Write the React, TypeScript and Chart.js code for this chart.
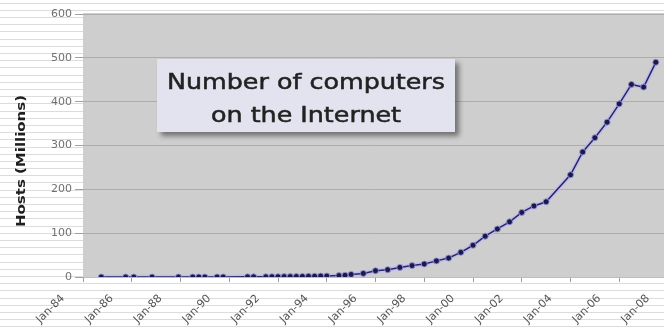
import React, { useEffect, useRef } from "react";
import { Chart, registerables } from "chart.js";

Chart.register(...registerables);

// Survey dates (year-month) and number of Internet hosts (millions)
const surveyDates = [
  "1984-10", "1985-10", "1986-02", "1986-11", "1987-12", "1988-07", "1988-10", "1989-01",
  "1989-07", "1989-10", "1990-10", "1991-01", "1991-07", "1991-10", "1992-01", "1992-04",
  "1992-07", "1992-10", "1993-01", "1993-04", "1993-07", "1993-10", "1994-01", "1994-07",
  "1994-10", "1995-01", "1995-07", "1996-01", "1996-07", "1997-01", "1997-07", "1998-01",
  "1998-07", "1999-01", "1999-07", "2000-01", "2000-07", "2001-01", "2001-07", "2002-01",
  "2002-07", "2003-01", "2004-01", "2004-07", "2005-01", "2005-07", "2006-01", "2006-07",
  "2007-01", "2007-07",
];
const hostsMillions = [
  0.001, 0.002, 0.002, 0.005, 0.028, 0.033, 0.056, 0.08,
  0.13, 0.159, 0.313, 0.376, 0.535, 0.617, 0.727, 0.89,
  0.992, 1.136, 1.313, 1.486, 1.776, 2.056, 2.217, 3.212,
  3.864, 5.846, 8.2, 14.352, 16.729, 21.819, 26.053, 29.67,
  36.739, 43.23, 56.218, 72.398, 93.048, 109.574, 125.888, 147.345,
  162.128, 171.638, 233.101, 285.139, 317.646, 353.284, 394.992, 439.286,
  433.193, 489.774,
];
const xTickYears = [1984, 1986, 1988, 1990, 1992, 1994, 1996, 1998, 2000, 2002, 2004, 2006, 2008];
const xTickLabels = ["Jan-84", "Jan-86", "Jan-88", "Jan-90", "Jan-92", "Jan-94", "Jan-96", "Jan-98", "Jan-00", "Jan-02", "Jan-04", "Jan-06", "Jan-08"];
const yTicks = [0, 100, 200, 300, 400, 500, 600];
const yAxisTitle = "Hosts (Millions)";
const boxTitleLines = ["Number of computers", "on the Internet"];

const toYear = (s: string) => {
  const [y, m] = s.split("-").map(Number);
  return y + (m - 1) / 12;
};

const points = surveyDates.map((d, i) => ({ x: toYear(d), y: hostsMillions[i] }));

const backgroundPlugin = {
  id: "bgPlugin",
  beforeDraw(chart: any) {
    const { ctx, width, height, chartArea } = chart;
    ctx.save();
    ctx.fillStyle = "#ffffff";
    ctx.fillRect(0, 0, width, height);
    ctx.strokeStyle = "#dcdcdc";
    ctx.lineWidth = 1;
    for (let y = 2.5; y < height; y += 7.2) {
      ctx.beginPath();
      ctx.moveTo(0, Math.round(y) + 0.5);
      ctx.lineTo(width, Math.round(y) + 0.5);
      ctx.stroke();
    }
    ctx.fillStyle = "#cecece";
    ctx.fillRect(chartArea.left, chartArea.top - 1, chartArea.right - chartArea.left, chartArea.bottom - chartArea.top + 1);
    ctx.restore();
  },
};

const boxPlugin = {
  id: "boxPlugin",
  afterDraw(chart: any) {
    const { ctx } = chart;
    // y-axis title
    ctx.save();
    ctx.translate(22, 161);
    ctx.rotate(-Math.PI / 2);
    ctx.fillStyle = "#1e1e1e";
    ctx.font = "bold 12px 'DejaVu Sans'";
    ctx.textAlign = "center";
    ctx.textBaseline = "middle";
    const wt = ctx.measureText(yAxisTitle).width;
    ctx.scale(132 / wt, 1);
    ctx.fillText(yAxisTitle, 0, 0);
    ctx.restore();

    // annotation box
    const bx = 157, by = 59, bw = 298, bh = 73;
    ctx.save();
    ctx.shadowColor = "rgba(0,0,0,0.45)";
    ctx.shadowBlur = 5;
    ctx.shadowOffsetX = 4;
    ctx.shadowOffsetY = 4;
    ctx.fillStyle = "#e3e3ef";
    ctx.fillRect(bx, by, bw, bh);
    ctx.restore();

    ctx.save();
    ctx.fillStyle = "#222222";
    ctx.strokeStyle = "#222222";
    ctx.lineWidth = 0.5;
    ctx.font = "21px 'DejaVu Sans'";
    ctx.textAlign = "center";
    ctx.textBaseline = "alphabetic";
    const w0 = ctx.measureText(boxTitleLines[0]).width;
    const sx = 278 / w0;
    const cx = bx + bw / 2;
    const baselines = [89, 122];
    boxTitleLines.forEach((line, i) => {
      ctx.save();
      ctx.translate(cx, baselines[i]);
      ctx.scale(sx, 1);
      ctx.fillText(line, 0, 0);
      ctx.strokeText(line, 0, 0);
      ctx.restore();
    });
    ctx.restore();
  },
};

export default function App() {
  const ref = useRef<HTMLCanvasElement | null>(null);

  useEffect(() => {
    if (!ref.current) return;
    const chart = new Chart(ref.current, {
      type: "line",
      data: {
        datasets: [
          {
            data: points,
            borderColor: "#26266a",
            borderWidth: 1.5,
            pointRadius: 3,
            pointBackgroundColor: "#1a1a4a",
            pointBorderColor: "rgba(150,145,215,0.9)",
            pointBorderWidth: 1,
            fill: false,
            tension: 0,
            order: 0,
          },
          {
            data: points,
            borderColor: "rgba(190,185,238,0.8)",
            borderWidth: 4.5,
            pointRadius: 0,
            fill: false,
            tension: 0,
            order: 1,
          },
        ],
      },
      options: {
        animation: false,
        responsive: false,
        maintainAspectRatio: false,
        layout: { padding: { left: 0, right: 32, top: 14, bottom: 0 } },
        plugins: { legend: { display: false }, tooltip: { enabled: false }, title: { display: false } },
        scales: {
          x: {
            type: "linear",
            min: 1984,
            max: 2008,
            afterBuildTicks: (scale: any) => {
              scale.ticks = xTickYears.map((v) => ({ value: v }));
            },
            afterFit: (scale: any) => {
              scale.height = 50;
            },
            grid: { drawOnChartArea: false, drawTicks: true, tickLength: 5, color: "#9a9a9a" },
            border: { display: true, color: "#bdbdbd" },
            ticks: {
              autoSkip: false,
              maxRotation: 45,
              minRotation: 45,
              padding: 10,
              labelOffset: -20,
              color: "#555555",
              font: { family: "'DejaVu Sans'", size: 11 },
              callback: (v: any) => {
                const i = xTickYears.indexOf(Number(v));
                return i >= 0 ? xTickLabels[i] : "";
              },
            },
          },
          y: {
            min: 0,
            max: 600,
            afterBuildTicks: (scale: any) => {
              scale.ticks = yTicks.map((v) => ({ value: v }));
            },
            afterFit: (scale: any) => {
              scale.width = 83;
            },
            grid: { color: "#adadad", tickColor: "#a0a0a0", tickLength: 8, lineWidth: 1 },
            border: { display: false },
            ticks: {
              padding: 3,
              color: "#707070",
              font: { family: "'DejaVu Sans'", size: 11 },
            },
          },
        },
      },
      plugins: [backgroundPlugin, boxPlugin],
    } as any);
    return () => chart.destroy();
  }, []);

  return (
    <div style={{ position: "fixed", left: 0, top: 0, width: 700, height: 327, overflow: "hidden" }}>
      <canvas ref={ref} width={700} height={327} style={{ display: "block" }} />
    </div>
  );
}
